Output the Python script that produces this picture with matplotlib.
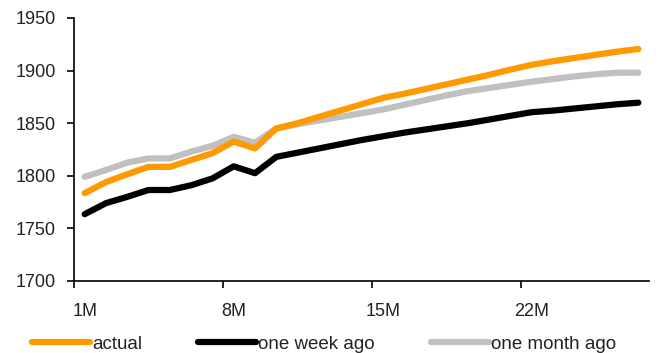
import numpy as np
import matplotlib
matplotlib.use("Agg")
import matplotlib.pyplot as plt

plt.rcParams['font.family'] = ['Liberation Sans', 'DejaVu Sans']

# tenors 1M .. 27M, one point per month
tenors = [f"{m}M" for m in range(1, 28)]
tick_labels = ["1M", "8M", "15M", "22M"]

actual = [1783.5, 1794, 1801.5, 1808.5, 1808.5, 1815, 1821.5, 1832.5, 1826, 1845,
          1850, 1856, 1862, 1868, 1874, 1878, 1882.5, 1887, 1891.5, 1896,
          1901, 1905.5, 1909, 1912, 1915, 1918, 1920.5]
one_week_ago = [1763.5, 1774, 1780, 1786.5, 1786.5, 1791, 1797.5, 1809, 1802.5, 1818,
                1822, 1826, 1830, 1834, 1837.5, 1841, 1844, 1847, 1850, 1853.5,
                1857, 1860.5, 1862, 1864, 1866, 1868, 1869.5]
one_month_ago = [1799, 1805.5, 1812.5, 1816.5, 1816.5, 1823, 1828.5, 1837, 1831.5, 1845,
                 1849, 1852.5, 1856, 1859.5, 1863, 1867.5, 1872, 1876.5, 1880.5, 1883.5,
                 1886.5, 1889.5, 1892, 1894.5, 1896.5, 1898, 1898]

W, H = 661, 353
fig = plt.figure(figsize=(W / 100, H / 100), dpi=100)
ax = fig.add_axes([74 / W, 1 - 281 / H, (649 - 74) / W, (281 - 18) / H])

x = np.arange(len(tenors)) + 0.5
style = dict(linewidth=4.5, solid_capstyle='round', solid_joinstyle='round')
ax.plot(x, actual, color='#FF9900', label='actual', zorder=3, **style)
ax.plot(x, one_week_ago, color='#000000', label='one week ago', zorder=2, **style)
ax.plot(x, one_month_ago, color='#C0C0C0', label='one month ago', zorder=2.5, **style)

ax.set_xlim(0, len(tenors))
ax.set_ylim(1700, 1950)
ax.set_yticks(np.arange(1700, 1951, 50))

# category axis: ticks between categories, labels on categories
ax.set_xticks([0, 7, 14, 21])
ax.set_xticklabels([])
ax.set_xticks([tenors.index(t) + 0.5 for t in tick_labels], minor=True)
ax.set_xticklabels(tick_labels, minor=True)
ax.tick_params(axis='x', which='major', direction='out', length=5, width=1.2, color='black')
ax.tick_params(axis='x', which='minor', length=0, pad=16, labelsize=13, labelcolor='#222222')
ax.tick_params(axis='y', direction='out', length=5, width=1.2, pad=8, labelsize=13, labelcolor='#222222')

for s in ['top', 'right']:
    ax.spines[s].set_visible(False)
for s in ['left', 'bottom']:
    ax.spines[s].set_linewidth(1.2)

fig.legend(loc='lower left', bbox_to_anchor=(32 / W, 0), ncol=3, frameon=False,
           fontsize=13.5, handlelength=3.1, handletextpad=0.1, columnspacing=3.0,
           borderpad=0, borderaxespad=0, labelcolor='#222222')

fig.savefig('out.png', dpi=100)
